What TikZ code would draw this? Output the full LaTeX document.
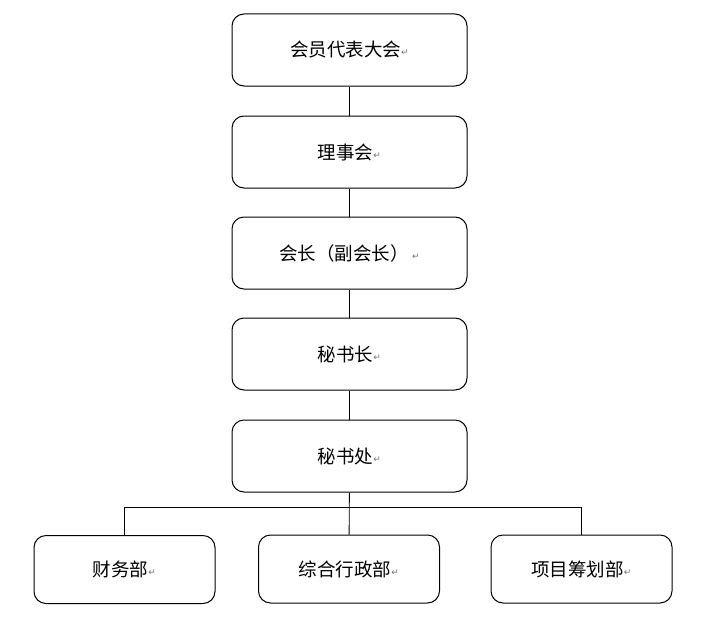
\documentclass[tikz,border=0pt]{standalone}
\usepackage{fontspec}
\newfontfamily\cjk{Noto Sans CJK SC}
\newfontfamily\symf{DejaVu Sans}
\newcommand{\pmark}{{\symf\fontsize{9}{9}\selectfont\color{black!55}\raisebox{1pt}{↵}}}
\begin{document}
\begin{tikzpicture}[x=1pt,y=-1pt,
  box/.style={draw=black,line width=1pt,rounded corners=12pt,minimum width=235pt,minimum height=72pt,inner sep=0pt,font=\cjk\fontsize{18.5}{21}\selectfont},
  sbox/.style={box,minimum width=181pt,minimum height=68pt},
  link/.style={draw=black,line width=0.9pt}]
\useasboundingbox (0,0) rectangle (703,626);
\node[box] (a) at (349.5,50) {会员代表大会\pmark};
\node[box] (b) at (349.5,152) {理事会\pmark};
\node[box] (c) at (349.5,253) {会长（副会长）\,\pmark};
\node[box] (d) at (349.5,354) {秘书长\pmark};
\node[box] (e) at (349.5,456) {秘书处\pmark};
\node[sbox] (f1) at (124.5,569.5) {财务部\pmark};
\node[sbox] (f2) at (349,569) {综合行政部\pmark};
\node[sbox] (f3) at (581.5,569) {项目筹划部\pmark};
\coordinate (bus) at (0,507);
\draw[link] (a) -- (b);
\draw[link] (b) -- (c);
\draw[link] (c) -- (d);
\draw[link] (d) -- (e);
\draw[link] (e) -- (f2);
\draw[link] (f1.north) -- (f1.north |- bus) -- (f3.north |- bus) -- (f3.north);
\end{tikzpicture}
\end{document}
